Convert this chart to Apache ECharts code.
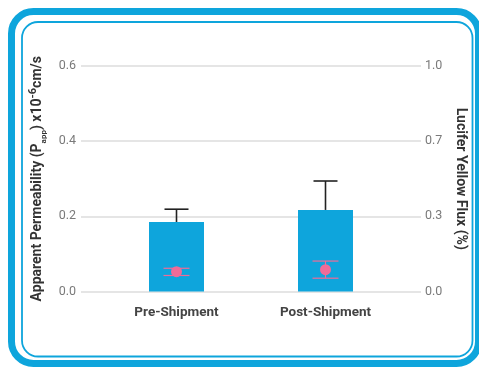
<!DOCTYPE html>
<html>
<head>
<meta charset="utf-8">
<script src="https://cdn.jsdelivr.net/npm/echarts@6/dist/echarts.min.js"></script>
<style>
  html, body { margin: 0; padding: 0; background: #fff; }
  #chart { width: 479px; height: 368px; }
</style>
</head>
<body>
<div id="chart"></div>
<script>
// Permeability (bars, left axis) and Lucifer Yellow flux (dots, right axis)
var categories = ['Pre-Shipment', 'Post-Shipment'];
var pappMean = [0.185, 0.217];
var pappUpper = [0.219, 0.294];
var fluxMean = [0.088, 0.097];
var fluxLow = [0.071, 0.059];
var fluxHigh = [0.103, 0.135];
var leftTicks = ['0.0', '0.2', '0.4', '0.6'];
var rightTicks = ['0.0', '0.3', '0.7', '1.0'];

var BLUE = '#0ea5dc';
var PINK = '#f06b98';
var FONT = 'Roboto';

var chart = echarts.init(document.getElementById('chart'), null, { renderer: 'canvas' });

function capRenderer(color, lineW, capHalf, mode) {
  return function (params, api) {
    var x = api.value(0);
    var lo = api.coord([x, api.value(1)]);
    var hi = api.coord([x, api.value(2)]);
    var children = [
      { type: 'line', shape: { x1: lo[0], y1: lo[1], x2: hi[0], y2: hi[1] },
        style: { stroke: color, lineWidth: lineW } },
      { type: 'line', shape: { x1: hi[0] - capHalf, y1: hi[1], x2: hi[0] + capHalf, y2: hi[1] },
        style: { stroke: color, lineWidth: lineW } }
    ];
    if (mode === 'both') {
      children.push({ type: 'line', shape: { x1: lo[0] - capHalf, y1: lo[1], x2: lo[0] + capHalf, y2: lo[1] },
        style: { stroke: color, lineWidth: lineW } });
    }
    return { type: 'group', children: children };
  };
}

var gridTop = 66, gridBottom = 76.5;
var nameFont = 14;

chart.setOption({
  animation: false,
  backgroundColor: '#fff',
  graphic: [
    { type: 'rect', shape: { x: 11.5, y: 11.5, width: 467, height: 352, r: 22 },
      style: { fill: 'none', stroke: BLUE, lineWidth: 7 }, silent: true },
    { type: 'rect', shape: { x: 22, y: 22, width: 450.5, height: 334.5, r: 16 },
      style: { fill: 'none', stroke: BLUE, lineWidth: 1.8 }, silent: true }
  ],
  grid: [
    { left: 81, right: 58, top: gridTop, bottom: gridBottom },
    { left: 102, right: 79, top: gridTop, bottom: gridBottom }
  ],
  xAxis: [
    { gridIndex: 0, type: 'category', data: categories, show: false },
    { gridIndex: 1, type: 'category', data: categories,
      axisLine: { show: false }, axisTick: { show: false },
      axisLabel: { margin: 14, fontFamily: FONT, fontSize: 13.5, fontWeight: 'bold', color: '#444' } }
  ],
  yAxis: [
    { gridIndex: 0, type: 'value', min: 0, max: 0.6, interval: 0.2, position: 'left',
      axisLine: { show: false }, axisTick: { show: false },
      splitLine: { lineStyle: { color: '#dcdcdc', width: 1.5 } },
      axisLabel: { margin: 5, fontFamily: FONT, fontSize: 12.5, color: '#7a7a7a',
        formatter: function (v, i) { return leftTicks[i]; } },
      name: '{b|Apparent Permeability (P}{sub|app}{b|) x10}{sup|-6}{b|cm/s}',
      nameLocation: 'middle', nameRotate: 90, nameGap: 32,
      nameTextStyle: {
        rich: {
          b: { fontFamily: FONT, fontSize: nameFont, fontWeight: 'bold', color: '#333', lineHeight: 20, verticalAlign: 'middle' },
          sub: { fontFamily: FONT, fontSize: 8, fontWeight: 'bold', color: '#333', lineHeight: 20, verticalAlign: 'bottom' },
          sup: { fontFamily: FONT, fontSize: 11, fontWeight: 'bold', color: '#333', lineHeight: 20, verticalAlign: 'top' }
        }
      } },
    { gridIndex: 0, type: 'value', min: 0, max: 1, interval: 1 / 3, position: 'right',
      axisLine: { show: false }, axisTick: { show: false }, splitLine: { show: false },
      axisLabel: { margin: 4, fontFamily: FONT, fontSize: 12.5, color: '#7a7a7a',
        formatter: function (v, i) { return rightTicks[i]; } },
      name: 'Lucifer Yellow Flux (%)', nameLocation: 'middle', nameRotate: -90, nameGap: 28,
      nameTextStyle: { fontFamily: FONT, fontSize: nameFont, fontWeight: 'bold', color: '#333' } },
    { gridIndex: 1, type: 'value', min: 0, max: 0.6, show: false },
    { gridIndex: 1, type: 'value', min: 0, max: 1, show: false }
  ],
  series: [
    { type: 'bar', xAxisIndex: 1, yAxisIndex: 2, data: pappMean, barWidth: 55,
      itemStyle: { color: BLUE }, z: 2 },
    { type: 'custom', xAxisIndex: 1, yAxisIndex: 2,
      data: categories.map(function (c, i) { return [i, pappMean[i], pappUpper[i]]; }),
      renderItem: capRenderer('#222', 1.6, 12, 'top'), z: 3 },
    { type: 'custom', xAxisIndex: 1, yAxisIndex: 3,
      data: categories.map(function (c, i) { return [i, fluxLow[i], fluxHigh[i]]; }),
      renderItem: capRenderer(PINK, 1.2, 13, 'both'), z: 4 },
    { type: 'scatter', xAxisIndex: 1, yAxisIndex: 3, data: fluxMean, symbolSize: 11,
      itemStyle: { color: PINK, opacity: 1 }, z: 5 }
  ]
});
</script>
</body>
</html>
